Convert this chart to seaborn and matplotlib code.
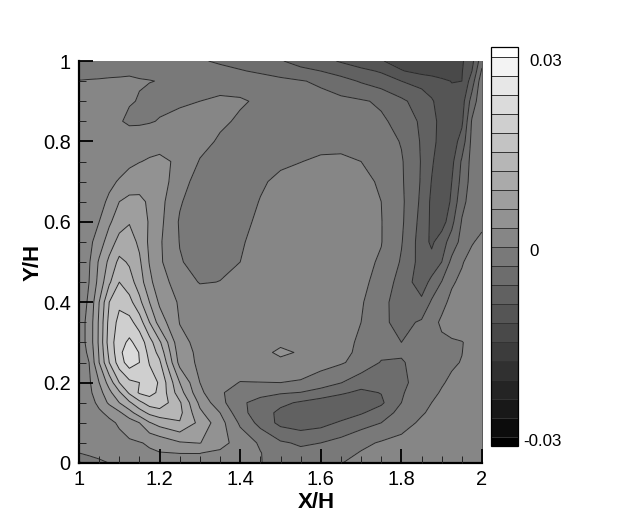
import numpy as np
import seaborn as sns
import matplotlib
matplotlib.use("Agg")
import matplotlib.pyplot as plt
from matplotlib.transforms import ScaledTranslation

x_h = [1, 1.025, 1.05, 1.075, 1.1, 1.125, 1.15, 1.175, 1.2, 1.25, 1.3, 1.35, 1.4, 1.45, 1.5, 1.55,
       1.6, 1.65, 1.7, 1.75, 1.8, 1.85, 1.875, 1.9, 1.925, 1.95, 1.975, 2]
y_h = [0, .025, .05, .1, .125, .15, .175, .2, .25, .275, .3, .35, .4, .45, .5, .55, .6, .65, .7, .75, .8, .85, .9, .95, .975, 1]

# values, in thousandths, one list per Y/H row
row_000 = [-3.5,-1.8,-0.8,0.05,0.3,0.65,1.0,1.3,1.6, 2.0,2.2,1.8,0.9,0.1,-1.0,-1.6,-1.0,-0.05,0.5,1.0,1.3,1.5,1.55,1.6,1.7,1.7,1.7,1.7]
row_025 = [0.0,0.7,1.2,1.5,1.8,2.1,2.4,2.7,2.9, 3.05,3.05,2.5,1.4,0.1,-1.5,-2.3,-2.0,-1.0,0.2,0.8,1.2,1.5,1.6,1.7,1.8,1.8,1.8,1.8]
row_050 = [0.6,1.2,1.7,2.0,2.3,2.6,2.85,3.3,4.0, 5.7,6.1,4.0,1.8,-0.4,-2.6,-3.4,-3.0,-2.0,-0.7,0.3,0.9,1.3,1.45,1.6,1.7,1.7,1.7,1.7]
row_100 = [1.2,1.7,2.1,2.5,3.3,4.5,6.0,8.8,10.2, 11.8,8.2,4.2,-0.5,-4.0,-6.8,-7.6,-7.0,-5.6,-4.2,-3.0,-1.2,0.5,0.85,1.2,1.5,1.7,1.8,1.8]
row_125 = [1.2,1.8,2.6,3.6,5.5,7.9,10.6,12.7,13.6, 12.8,6.6,3.0,-2.0,-4.6,-6.7,-7.5,-7.9,-7.6,-6.3,-4.6,-2.0,-0.3,0.5,1.0,1.4,1.6,1.8,1.9]
row_150 = [1.2,2.0,3.6,6.6,9.0,11.5,14.2,16.4,17.0, 12.4,5.3,1.0,-2.5,-4.0,-5.3,-6.4,-7.4,-7.8,-7.2,-6.5,-3.0,-1.0,0.0,0.9,1.3,1.6,1.8,1.9]
row_175 = [1.4,2.3,4.8,8.2,11.5,15.5,18.4,19.0,17.4, 10.3,3.7,0.3,-1.1,-2.1,-2.7,-3.1,-4.2,-5.6,-6.6,-5.9,-3.3,-1.3,-0.5,0.2,0.8,1.3,1.6,1.8]
row_200 = [1.5,2.5,6.0,10.2,15.0,17.3,18.0,19.3,17.7, 9.0,3.0,1.0,-0.1,-0.05,0.0,-0.3,-1.5,-2.9,-4.8,-5.2,-3.7,-1.7,-0.9,-0.2,0.4,1.0,1.5,1.7]
row_250 = [1.5,3.0,9.0,15.0,19.5,22.5,21.0,17.8,15.5, 5.0,2.3,1.9,1.8,2.0,2.5,1.8,1.1,0.3,-1.0,-3.2,-3.3,-1.7,-1.2,-0.8,-0.3,0.1,1.0,1.6]
row_275 = [1.5,3.5,9.3,15.8,20.0,23.5,20.8,17.0,14.0, 4.4,2.3,1.9,1.9,2.4,3.4,2.8,1.2,0.5,-0.4,-2.3,-2.6,-1.5,-1.1,-0.7,-0.3,-0.05,0.9,1.6]
row_300 = [1.5,4.0,9.6,16.5,19.8,21.6,19.8,16.2,12.5, 3.8,2.2,1.9,1.9,2.1,2.6,2.3,1.4,0.8,-0.4,-1.9,-3.0,-1.4,-0.95,-0.55,-0.3,-0.1,0.6,1.6]
row_350 = [1.5,4.0,9.5,16.0,18.9,19.0,16.5,12.0,7.6, 2.9,2.1,1.9,1.9,2.0,2.1,2.0,1.6,0.8,0.0,-2.4,-3.9,-2.6,-1.05,0.5,1.2,1.6,1.8,1.9]
row_400 = [1.5,3.4,9.0,15.0,17.4,16.0,12.8,9.0,5.5, 2.6,2.1,1.9,1.9,1.9,1.8,1.7,1.4,0.9,0.3,-2.0,-4.6,-5.4,-2.6,-0.9,0.8,1.4,1.7,1.9]
row_450 = [1.5,3.0,7.0,11.5,15.0,13.3,10.5,6.8,4.1, 1.8,-0.2,0.05,0.8,1.3,1.5,1.5,1.4,1.1,0.6,-0.9,-4.3,-7.5,-5.2,-2.9,-0.4,0.7,1.5,1.9]
row_500 = [1.5,2.7,6.4,9.7,12.8,11.6,9.5,5.8,3.5, 0.2,-0.9,-0.6,0.0,0.6,1.0,1.2,1.3,1.2,0.7,-0.3,-3.3,-7.2,-7.9,-6.0,-2.2,-0.3,1.3,1.9]
row_550 = [1.4,2.2,4.5,7.5,10.0,10.3,8.4,5.4,3.4, -0.1,-1.3,-1.2,-0.2,0.6,1.0,1.2,1.3,1.2,0.8,0.1,-2.8,-7.4,-9.6,-7.2,-4.8,-2.0,-0.3,0.9]
row_600 = [1.3,2.0,3.0,5.5,7.7,8.8,7.6,5.7,3.8, -0.3,-1.6,-1.6,-0.7,0.5,1.0,1.2,1.3,1.2,0.8,0.1,-2.5,-7.0,-9.6,-10.6,-6.8,-2.8,-1.5,-0.9]
row_650 = [1.2,1.7,2.3,3.4,6.0,6.8,6.6,5.6,4.0, 0.3,-1.8,-1.9,-1.0,0.1,0.9,1.1,1.3,1.2,0.8,0.0,-2.4,-6.6,-9.6,-11.2,-8.5,-3.8,-1.8,-1.1]
row_700 = [1.1,1.4,1.9,2.5,3.2,4.4,4.9,4.6,4.2, 1.6,-1.6,-1.9,-1.3,-0.3,0.5,1.0,1.2,1.1,0.6,-0.3,-2.6,-6.3,-9.1,-11.2,-9.0,-5.0,-1.8,-1.2]
row_750 = [1.0,1.2,1.4,1.7,2.0,2.3,2.9,3.3,3.5, 2.6,-0.2,-1.9,-1.8,-1.1,-0.4,-0.05,0.4,0.5,0.0,-0.9,-2.7,-6.2,-8.6,-10.8,-9.8,-5.6,-2.0,-1.2]
row_800 = [0.9,1.0,1.1,1.2,1.3,1.4,1.6,1.8,2.1, 2.0,1.0,-0.4,-1.5,-1.5,-1.2,-1.0,-0.8,-0.8,-1.0,-1.5,-3.2,-6.3,-8.2,-10.0,-10.6,-7.8,-2.2,-1.1]
row_850 = [0.8,0.8,0.7,0.5,0.2,-0.4,-0.4,-0.2,0.15, 0.8,0.9,0.5,-0.4,-1.2,-1.4,-1.5,-1.6,-1.8,-2.1,-2.6,-3.8,-6.6,-8.2,-9.8,-10.7,-9.6,-2.7,-1.0]
row_900 = [0.5,0.5,0.5,0.4,0.3,0.15,-0.1,-0.5,-0.6, -0.4,0.0,0.4,0.3,-0.4,-1.2,-1.7,-2.0,-2.3,-2.7,-3.4,-5.4,-7.4,-8.7,-10.2,-11.0,-10.4,-4.7,-0.8]
row_950 = [0.05,0.1,0.15,0.2,0.2,0.2,0.1,0.05,-0.05, -0.4,-0.7,-1.0,-1.3,-1.8,-2.3,-2.8,-3.5,-4.9,-6.3,-7.6,-9.0,-10.0,-10.5,-11.4,-12.1,-12.0,-7.5,-1.0]
row_975 = [-0.5,-0.5,-0.5,-0.4,-0.3,-0.2,-0.3,-0.4,-0.6, -1.0,-1.5,-2.2,-2.8,-3.4,-4.2,-5.3,-6.0,-7.2,-8.3,-9.3,-11.8,-13.0,-13.4,-13.6,-13.4,-12.2,-9.0,-2.5]
row_100p = [-1.0,-1.0,-1.0,-0.9,-0.9,-0.8,-0.9,-1.0,-1.2, -1.9,-2.7,-3.4,-4.0,-5.0,-5.8,-7.0,-8.0,-9.3,-10.5,-11.8,-13.2,-14.0,-14.2,-14.2,-13.8,-12.4,-10.0,-4.0]

level_values = [-.03, -.027, -.024, -.021, -.018, -.015, -.012, -.009, -.006, -.003, 0,
                .003, .006, .009, .012, .015, .018, .021, .024, .027, .03]
x_ticks = [1, 1.2, 1.4, 1.6, 1.8, 2]
x_tick_labels = ["1", "1.2", "1.4", "1.6", "1.8", "2"]
y_ticks = [0, 0.2, 0.4, 0.6, 0.8, 1]
y_tick_labels = ["0", "0.2", "0.4", "0.6", "0.8", "1"]
bar_ticks = [-.03, 0, .03]
bar_tick_labels = ["-0.03", "0", "0.03"]

sns.set_theme(style="ticks")
plt.rcParams["font.family"] = ["Liberation Sans", "DejaVu Sans"]

W, H = 623, 519
fig = plt.figure(figsize=(W / 100, H / 100), dpi=100)
ax = fig.add_axes([79 / W, 1 - 463 / H, (482 - 79) / W, (463 - 61) / H])
cax = fig.add_axes([491 / W, 1 - 446 / H, (518 - 491) / W, (446 - 47) / H])

rows = [row_000, row_025, row_050, row_100, row_125, row_150, row_175, row_200, row_250, row_275, row_300, row_350,
        row_400, row_450, row_500, row_550, row_600, row_650, row_700, row_750, row_800, row_850,
        row_900, row_950, row_975, row_100p]
Z = np.array(rows) / 1000.0
band_colors = sns.blend_palette(["#000000", "#ffffff"], n_colors=len(level_values) + 1)

cf = ax.contourf(x_h, y_h, Z, levels=level_values, colors=band_colors, extend="both")
ax.contour(x_h, y_h, Z, levels=level_values, colors="#2a2a2a", linewidths=0.7, linestyles="solid")

ax.set_xlim(1, 2)
ax.set_ylim(0, 1)
ax.set_axisbelow(False)
ax.set_xticks(x_ticks, x_tick_labels)
ax.set_yticks(y_ticks, y_tick_labels)
ax.set_xticks(np.arange(1, 2.001, 0.05), minor=True)
ax.set_yticks(np.arange(0, 1.001, 0.05), minor=True)
ax.tick_params(which="major", direction="in", length=10, width=1.3, color="black",
               labelsize=14.4, labelcolor="black", pad=6)
ax.tick_params(which="minor", direction="in", length=5, width=0.7, color="#222222")
ax.tick_params(axis="x", which="major", pad=5)
for side in ("left", "bottom"):
    ax.spines[side].set_linewidth(1.6)
    ax.spines[side].set_color("black")
ax.spines["top"].set_visible(False)
ax.spines["right"].set_linewidth(0.7)
ax.spines["right"].set_color("#555555")

ax.set_xlabel("X/H", fontsize=16, fontweight="bold", color="black")
ax.set_ylabel("Y/H", fontsize=16, fontweight="bold", color="black")
ax.xaxis.set_label_coords((316 - 79) / 403, -(502 - 463) / 402, transform=ax.transAxes)
ax.xaxis.label.set_verticalalignment("center")
ax.yaxis.set_label_coords(-(79 - 33) / 403, (463 - 262) / 402, transform=ax.transAxes)
ax.yaxis.label.set_verticalalignment("center")

cb = fig.colorbar(cf, cax=cax, extend="both", extendrect=True, extendfrac=0.025, drawedges=True)
cb.set_ticks(bar_ticks, labels=bar_tick_labels)
cb.ax.tick_params(length=0, labelsize=12.2, labelcolor="black", pad=8)
cb.outline.set_linewidth(0.9)
cb.outline.set_edgecolor("black")
cb.dividers.set_linewidth(0.7)
cb.dividers.set_color("#333333")
for lab, text in zip(cb.ax.get_yticklabels(), bar_tick_labels):
    dx = -6 if text.startswith("-") else 0
    lab.set_transform(lab.get_transform() + ScaledTranslation(dx / 100, -3 / 100, fig.dpi_scale_trans))

fig.savefig("out.png", dpi=100, facecolor="white")
